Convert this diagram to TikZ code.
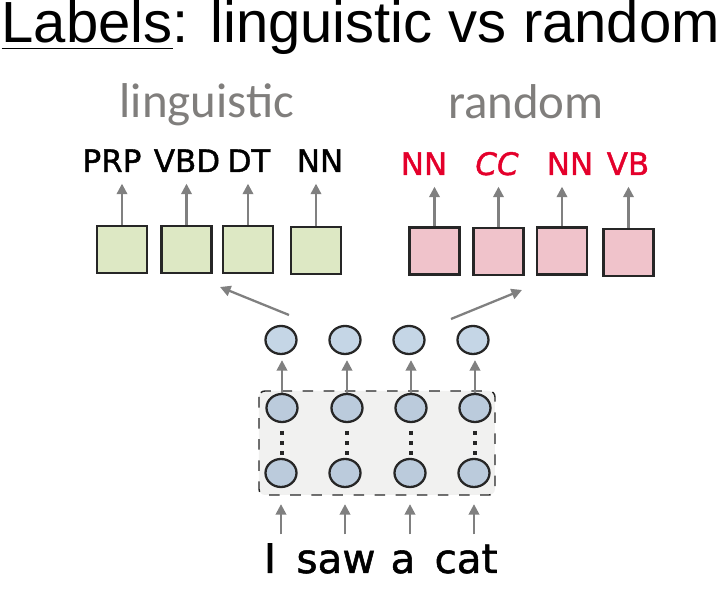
\documentclass[tikz,border=0pt]{standalone}
\usepackage{fontspec}
\setmainfont{Liberation Sans}
\newfontfamily\headfont{Carlito}
\newfontfamily\tagfont[FakeBold=1.3]{DejaVu Sans}
\usepackage{xcolor}
\usetikzlibrary{arrows.meta,shapes.geometric,positioning}
\definecolor{tagred}{RGB}{228,0,43}
\definecolor{headgray}{RGB}{128,126,124}
\definecolor{arrowgray}{RGB}{128,128,128}
\definecolor{boxgreen}{RGB}{221,232,196}
\definecolor{boxpink}{RGB}{240,195,203}
\definecolor{cellblue}{RGB}{197,214,230}
\definecolor{cellblue2}{RGB}{187,203,220}
\definecolor{layergray}{RGB}{241,241,240}
\definecolor{edgedark}{RGB}{38,38,38}

\begin{document}
\begin{tikzpicture}[x=0.01cm,y=-0.01cm,
garrow/.style={-{Triangle[length=3pt,width=3pt]},line width=0.65pt,arrowgray},
tagbox/.style={rectangle,draw=edgedark,line width=0.65pt,inner sep=0pt,minimum width=0.5cm,minimum height=0.47cm},
cell/.style={ellipse,draw=edgedark,line width=0.65pt,fill=cellblue,inner sep=0pt,minimum width=0.31cm,minimum height=0.28cm},
tag/.style={anchor=base,inner sep=0pt,text depth=0pt,font=\tagfont\fontsize{8.8}{10}\selectfont},
word/.style={anchor=base,inner sep=0pt,text depth=0pt,text height=0.28cm,font=\tagfont\fontsize{11.5}{12}\selectfont},
vdots/.style={line width=0.035cm,edgedark,dash pattern=on 0.035cm off 0.065cm}]
\useasboundingbox (0,0) rectangle (726,604);

\node (title) [anchor=base west,inner sep=0pt,font=\fontsize{16.5}{18}\selectfont] at (1,43) {\underline{Labels}: linguistic vs random};

\node (head_ling) [anchor=base,inner sep=0pt,headgray,font=\headfont\fontsize{13.9}{15}\selectfont] at (207,118) {linguistic};
\node (head_rand) [anchor=base,inner sep=0pt,headgray,font=\headfont\fontsize{13.9}{15}\selectfont] at (526,119) {random};

\node (lt1) [tag] at (112,172) {PRP};
\node (lt2) [tag] at (187,172) {VBD};
\node (lt3) [tag] at (249,172) {DT};
\node (lt4) [tag] at (320,172) {NN};

\node (rt1) [tag,tagred] at (424,175) {NN};
\node (rt2) [tag,tagred] at (497,175) {\itshape CC};
\node (rt3) [tag,tagred] at (570,175) {NN};
\node (rt4) [tag,tagred] at (628,175) {VB};

\node (lb1) [tagbox,fill=boxgreen] at (122,249.5) {};
\node (lb2) [tagbox,fill=boxgreen] at (186.5,249.5) {};
\node (lb3) [tagbox,fill=boxgreen] at (248,249.5) {};
\node (lb4) [tagbox,fill=boxgreen] at (316,250.5) {};

\node (rb1) [tagbox,fill=boxpink] at (434.5,251) {};
\node (rb2) [tagbox,fill=boxpink] at (498.5,251.5) {};
\node (rb3) [tagbox,fill=boxpink] at (562,251) {};
\node (rb4) [tagbox,fill=boxpink] at (628.5,252.5) {};

\draw[garrow,shorten >=0.11cm] (lb1.north) -- (lb1.north |- lt1.south);
\draw[garrow,shorten >=0.11cm] (lb2.north) -- (lb2.north |- lt2.south);
\draw[garrow,shorten >=0.11cm] (lb3.north) -- (lb3.north |- lt3.south);
\draw[garrow,shorten >=0.11cm] (lb4.north) -- (lb4.north |- lt4.south);
\draw[garrow,shorten >=0.11cm] (rb1.north) -- (rb1.north |- rt1.south);
\draw[garrow,shorten >=0.11cm] (rb2.north) -- (rb2.north |- rt2.south);
\draw[garrow,shorten >=0.11cm] (rb3.north) -- (rb3.north |- rt3.south);
\draw[garrow,shorten >=0.11cm] (rb4.north) -- (rb4.north |- rt4.south);

\coordinate (split_l) at (289,315);
\coordinate (to_ling) at (220,287);
\coordinate (split_r) at (451,319);
\coordinate (to_rand) at (522,290);
\draw[garrow] (split_l) -- (to_ling);
\draw[garrow] (split_r) -- (to_rand);

\draw[dashed,edgedark,line width=0.4pt,fill=layergray,rounded corners=0.06cm] (259,391) rectangle (495,495);

\node (h1) [cell] at (281,340) {};
\node (h2) [cell] at (345,340) {};
\node (h3) [cell] at (409,340) {};
\node (h4) [cell] at (473,340) {};

\node (a1) [cell,fill=cellblue2] at (282,408) {};
\node (a2) [cell,fill=cellblue2] at (347,408) {};
\node (a3) [cell,fill=cellblue2] at (411,408) {};
\node (a4) [cell,fill=cellblue2] at (475,408) {};

\node (b1) [cell,fill=cellblue2] at (281,473) {};
\node (b2) [cell,fill=cellblue2] at (345,473) {};
\node (b3) [cell,fill=cellblue2] at (410,473) {};
\node (b4) [cell,fill=cellblue2] at (474,473) {};

\draw[vdots,shorten <=0.23cm,shorten >=0.18cm] (a1.center) -- (a1.center |- b1.center);
\draw[vdots,shorten <=0.23cm,shorten >=0.18cm] (a2.center) -- (a2.center |- b2.center);
\draw[vdots,shorten <=0.23cm,shorten >=0.18cm] (a3.center) -- (a3.center |- b3.center);
\draw[vdots,shorten <=0.23cm,shorten >=0.18cm] (a4.center) -- (a4.center |- b4.center);

\draw[garrow,shorten >=0.05cm] (a1.north) -- (a1.north |- h1.south);
\draw[garrow,shorten >=0.05cm] (a2.north) -- (a2.north |- h2.south);
\draw[garrow,shorten >=0.05cm] (a3.north) -- (a3.north |- h3.south);
\draw[garrow,shorten >=0.05cm] (a4.north) -- (a4.north |- h4.south);

\node (w1) [word] at (270,573) {I};
\node (w2) [word] at (336,573) {saw};
\node (w3) [word] at (403,573) {a};
\node (w4) [word] at (466,573) {cat};

\draw[garrow,shorten <=0.1cm,shorten >=0.16cm] (w1.north -| b1.south) -- (b1.south);
\draw[garrow,shorten <=0.1cm,shorten >=0.16cm] (w2.north -| b2.south) -- (b2.south);
\draw[garrow,shorten <=0.1cm,shorten >=0.16cm] (w3.north -| b3.south) -- (b3.south);
\draw[garrow,shorten <=0.1cm,shorten >=0.16cm] (w4.north -| b4.south) -- (b4.south);

\end{tikzpicture}
\end{document}
